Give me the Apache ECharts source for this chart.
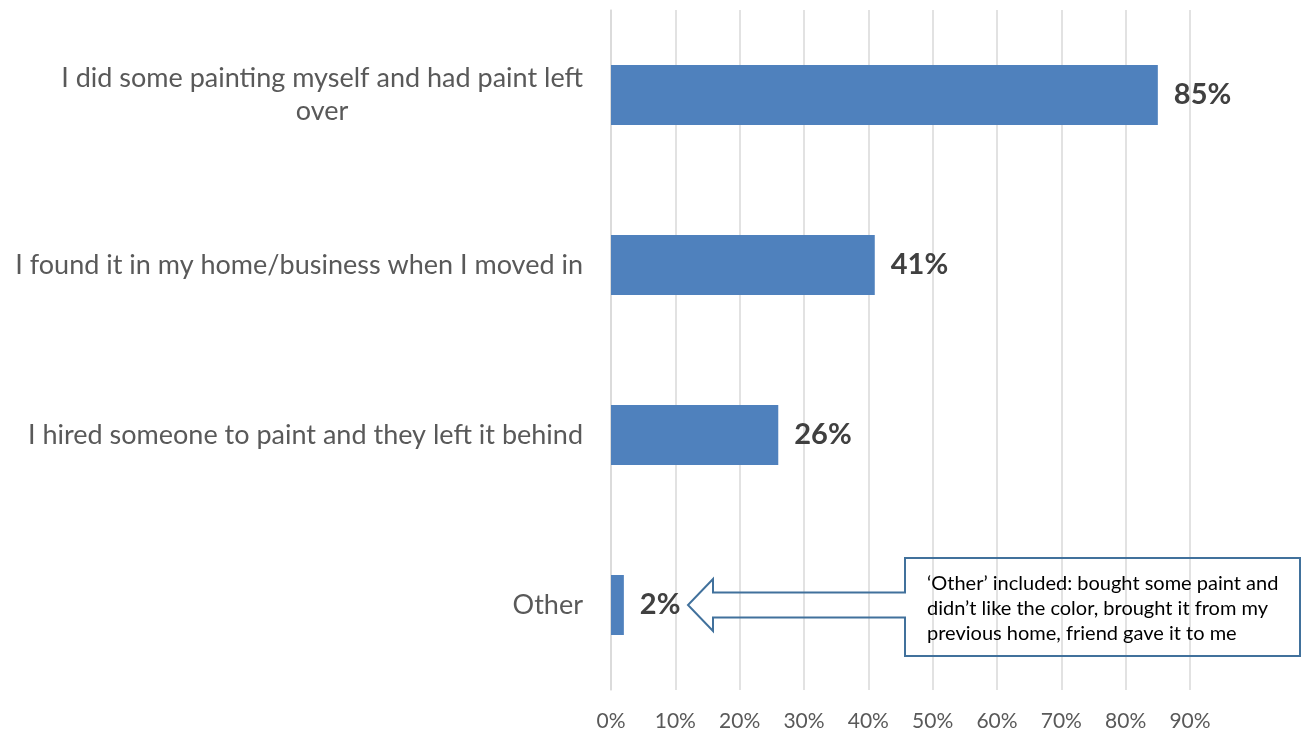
<!DOCTYPE html>
<html>
<head>
<meta charset="utf-8">
<script src="https://cdn.jsdelivr.net/npm/echarts@6/dist/echarts.min.js"></script>
<style>
  html, body { margin: 0; padding: 0; background: #fff; }
  #chart { width: 1303px; height: 732px; }
</style>
</head>
<body>
<div id="chart"></div>
<script>
// Where leftover paint came from (share of respondents, %)
const categories = [
  'I did some painting myself and had paint left\nover',
  'I found it in my home/business when I moved in',
  'I hired someone to paint and they left it behind',
  'Other'
];
const shares = [85, 41, 26, 2];
const xTicks = [0, 10, 20, 30, 40, 50, 60, 70, 80, 90];
const otherNote = [
  '\u2018Other\u2019 included: bought some paint and',
  'didn\u2019t like the color, brought it from my',
  'previous home, friend gave it to me'
];

const FONT = 'Lato';
const chart = echarts.init(document.getElementById('chart'), null, { renderer: 'canvas' });

chart.setOption({
  animation: false,
  backgroundColor: '#ffffff',
  grid: { left: 611, right: 113, top: 10, bottom: 42, containLabel: false },
  xAxis: {
    type: 'value',
    min: xTicks[0],
    max: xTicks[xTicks.length - 1],
    interval: xTicks[1] - xTicks[0],
    axisLine: { show: false },
    axisTick: { show: false },
    axisLabel: {
      formatter: '{value}%',
      color: '#595959',
      fontFamily: FONT,
      fontSize: 21,
      margin: 21
    },
    splitLine: { show: true, lineStyle: { color: '#d9d9d9', width: 1.5 } }
  },
  yAxis: {
    type: 'category',
    data: categories,
    inverse: true,
    axisLine: { show: true, lineStyle: { color: '#d9d9d9', width: 1.5 } },
    axisTick: { show: false },
    axisLabel: {
      margin: 28,
      formatter: function (v) {
        return v.split('\n').map(function (s) { return '{c|' + s + '}'; }).join('\n');
      },
      rich: {
        c: { align: 'center', color: '#595959', fontFamily: FONT, fontSize: 27, lineHeight: 33 }
      }
    }
  },
  series: [{
    type: 'bar',
    data: shares,
    barWidth: 60,
    itemStyle: { color: '#4f81bd' },
    label: {
      show: true,
      position: 'right',
      distance: 16,
      formatter: '{c}%',
      color: '#404040',
      fontFamily: FONT,
      fontWeight: 'bold',
      fontSize: 29
    }
  }]
});

// Left-arrow callout explaining the "Other" answers
const cy = chart.convertToPixel({ yAxisIndex: 0 }, 'Other');
const box = { left: 905, right: 1300, top: cy - 47, bottom: cy + 51 };
const shaftHalf = 12.5, headHalf = 26, tipX = 688, headBackX = 713;
chart.setOption({
  graphic: [
    {
      type: 'polygon',
      shape: {
        points: [
          [box.left, box.top],
          [box.right, box.top],
          [box.right, box.bottom],
          [box.left, box.bottom],
          [box.left, cy + shaftHalf],
          [headBackX, cy + shaftHalf],
          [headBackX, cy + headHalf],
          [tipX, cy],
          [headBackX, cy - headHalf],
          [headBackX, cy - shaftHalf],
          [box.left, cy - shaftHalf]
        ]
      },
      style: { fill: 'transparent', stroke: '#41719c', lineWidth: 2 },
      z: 100
    },
    {
      type: 'text',
      left: 927,
      top: cy - 34,
      style: {
        text: otherNote.join('\n'),
        fill: '#000000',
        font: '20px ' + FONT,
        lineHeight: 25
      },
      z: 101
    }
  ]
});
</script>
</body>
</html>
